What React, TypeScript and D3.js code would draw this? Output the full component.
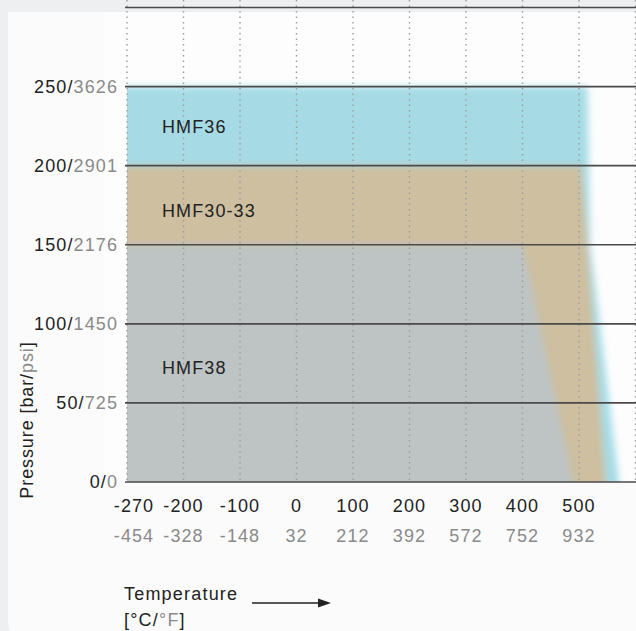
import React, { useEffect, useRef } from 'react';
import * as d3 from 'd3';

// temperature grid (°C) and matching °F labels
const tempC = [-270, -200, -100, 0, 100, 200, 300, 400, 500, 600];
const tempCLabels = ['-270', '-200', '-100', '0', '100', '200', '300', '400', '500', ''];
const tempFLabels = ['-454', '-328', '-148', '32', '212', '392', '572', '752', '932', ''];

// pressure grid (bar) and matching psi labels
const pressureBar = [0, 50, 100, 150, 200, 250, 300];
const pressurePsi = ['0', '725', '1450', '2176', '2901', '3626', ''];

// operating envelopes, [°C, bar]
const seriesNames = ['HMF36', 'HMF30-33', 'HMF38'];
const hmf36: [number, number][] = [[-270, 0], [-270, 250], [515, 250], [520, 150], [575, 0]];
const hmf3033: [number, number][] = [[-270, 0], [-270, 200], [505, 200], [515, 150], [550, 0]];
const hmf38: [number, number][] = [[-270, 0], [-270, 150], [400, 150], [497, 0]];
const labelPressure = [225, 172, 73];
const seriesColors = ['#a6dbe6', '#cdbf9f', '#bec4c4'];

const W = 636;
const H = 631;

const App: React.FC = () => {
  const svgRef = useRef<SVGSVGElement>(null);

  useEffect(() => {
    if (!svgRef.current) return;
    const svg = d3.select(svgRef.current);
    svg.selectAll('*').remove();

    const font = "'Liberation Sans', Arial, sans-serif";
    const dark = '#222';
    const grey = '#8a8a8a';
    const fs = 18;
    const ls = 1.1;

    // backdrop + panel
    svg.append('rect').attr('width', W).attr('height', H).attr('fill', '#eeeff0');
    svg.append('path')
      .attr('d', `M8,12 H${W + 10} V${H + 10} H28 Q8,${H + 10} 8,${H - 10} Z`)
      .attr('fill', '#fbfbfb');
    svg.append('rect')
      .attr('x', 104).attr('y', 12).attr('width', W - 104).attr('height', 470)
      .attr('fill', '#fdfdfd');

    // piecewise scale: grid columns are evenly spaced
    const left = 127;
    const step = 56.5;
    const x = d3.scaleLinear()
      .domain(tempC)
      .range(tempC.map((_, i) => left + i * step));
    const y = d3.scaleLinear().domain([0, 300]).range([482, 7.5]);

    const defs = svg.append('defs');
    const blur = defs.append('filter')
      .attr('id', 'soft')
      .attr('x', '-10%').attr('y', '-10%')
      .attr('width', '120%').attr('height', '120%');
    blur.append('feGaussianBlur').attr('stdDeviation', 3.6);
    defs.append('clipPath').attr('id', 'plotClip')
      .append('rect')
      .attr('x', x(tempC[0])).attr('y', 0)
      .attr('width', W - x(tempC[0])).attr('height', y(0));

    // pad the outer (clipped) edges so the blur does not fade them
    const pad = 20;
    const line = d3.line<[number, number]>()
      .x(d => x(d[0]) - (d[0] === tempC[0] ? pad : 0))
      .y(d => y(d[1]) + (d[1] === 0 ? pad : 0));

    const areas = svg.append('g').attr('clip-path', 'url(#plotClip)')
      .append('g').attr('filter', 'url(#soft)');
    [hmf36, hmf3033, hmf38].forEach((pts, i) => {
      areas.append('path')
        .attr('d', line(pts) + 'Z')
        .attr('fill', seriesColors[i]);
    });

    // dotted verticals
    svg.append('g').selectAll('line')
      .data(tempC)
      .join('line')
      .attr('x1', d => x(d)).attr('x2', d => x(d))
      .attr('y1', 0).attr('y2', y(0))
      .attr('stroke', '#9c9c9c')
      .attr('stroke-width', 1.4)
      .attr('stroke-dasharray', '1.4 4.1');

    // horizontal gridlines
    svg.append('g').selectAll('line')
      .data(pressureBar)
      .join('line')
      .attr('x1', x(tempC[0]) - 2).attr('x2', W)
      .attr('y1', d => y(d)).attr('y2', d => y(d))
      .attr('stroke', '#4a4a4a')
      .attr('stroke-width', 1.6);

    // y labels bar/psi
    const yl = svg.append('g').selectAll('text')
      .data(pressureBar.filter((_, i) => pressurePsi[i] !== ''))
      .join('text')
      .attr('x', 118)
      .attr('y', d => y(d) + 6)
      .attr('text-anchor', 'end')
      .attr('font-family', font)
      .attr('font-size', fs)
      .attr('letter-spacing', ls);
    yl.append('tspan').attr('fill', dark).text(d => `${d}/`);
    yl.append('tspan').attr('fill', grey).text(d => pressurePsi[pressureBar.indexOf(d)]);

    // x labels °C / °F
    const xg = svg.append('g');
    tempC.forEach((t, i) => {
      if (!tempCLabels[i]) return;
      const dx = i === 0 ? 7 : 0;
      xg.append('text')
        .attr('x', x(t) + dx).attr('y', 512)
        .attr('text-anchor', 'middle')
        .attr('font-family', font).attr('font-size', fs).attr('letter-spacing', ls)
        .attr('fill', dark)
        .text(tempCLabels[i]);
      xg.append('text')
        .attr('x', x(t) + dx).attr('y', 542)
        .attr('text-anchor', 'middle')
        .attr('font-family', font).attr('font-size', fs).attr('letter-spacing', ls)
        .attr('fill', grey)
        .text(tempFLabels[i]);
    });

    // series labels
    svg.append('g').selectAll('text')
      .data(seriesNames)
      .join('text')
      .attr('x', x(tempC[0]) + 35)
      .attr('y', (_, i) => y(labelPressure[i]) + 7)
      .attr('font-family', font)
      .attr('font-size', fs)
      .attr('letter-spacing', ls)
      .attr('fill', dark)
      .text(d => d);

    // y axis title
    const yt = svg.append('text')
      .attr('transform', 'translate(33,420) rotate(-90)')
      .attr('text-anchor', 'middle')
      .attr('font-family', font)
      .attr('font-size', fs)
      .attr('letter-spacing', 0.9)
      .attr('fill', dark);
    yt.append('tspan').text('Pressure [bar/');
    yt.append('tspan').attr('fill', grey).text('psi');
    yt.append('tspan').text(']');

    // x axis title
    const xt = svg.append('text')
      .attr('font-family', font)
      .attr('font-size', fs)
      .attr('letter-spacing', 1.2)
      .attr('fill', dark);
    xt.append('tspan').attr('x', 124).attr('y', 600).text('Temperature');
    const l2 = xt.append('tspan').attr('x', 124).attr('y', 626);
    l2.append('tspan').text('[°C/');
    l2.append('tspan').attr('fill', grey).text('°F');
    l2.append('tspan').text(']');

    // arrow
    svg.append('line')
      .attr('x1', 252).attr('x2', 320)
      .attr('y1', 603).attr('y2', 603)
      .attr('stroke', dark).attr('stroke-width', 1.6);
    svg.append('path')
      .attr('d', 'M318,598.5 L331,603 L318,607.5 Z')
      .attr('fill', dark);
  }, []);

  return (
    <svg
      ref={svgRef}
      width={W}
      height={H}
      style={{ position: 'fixed', left: 0, top: 0, display: 'block' }}
    />
  );
};

export default App;
